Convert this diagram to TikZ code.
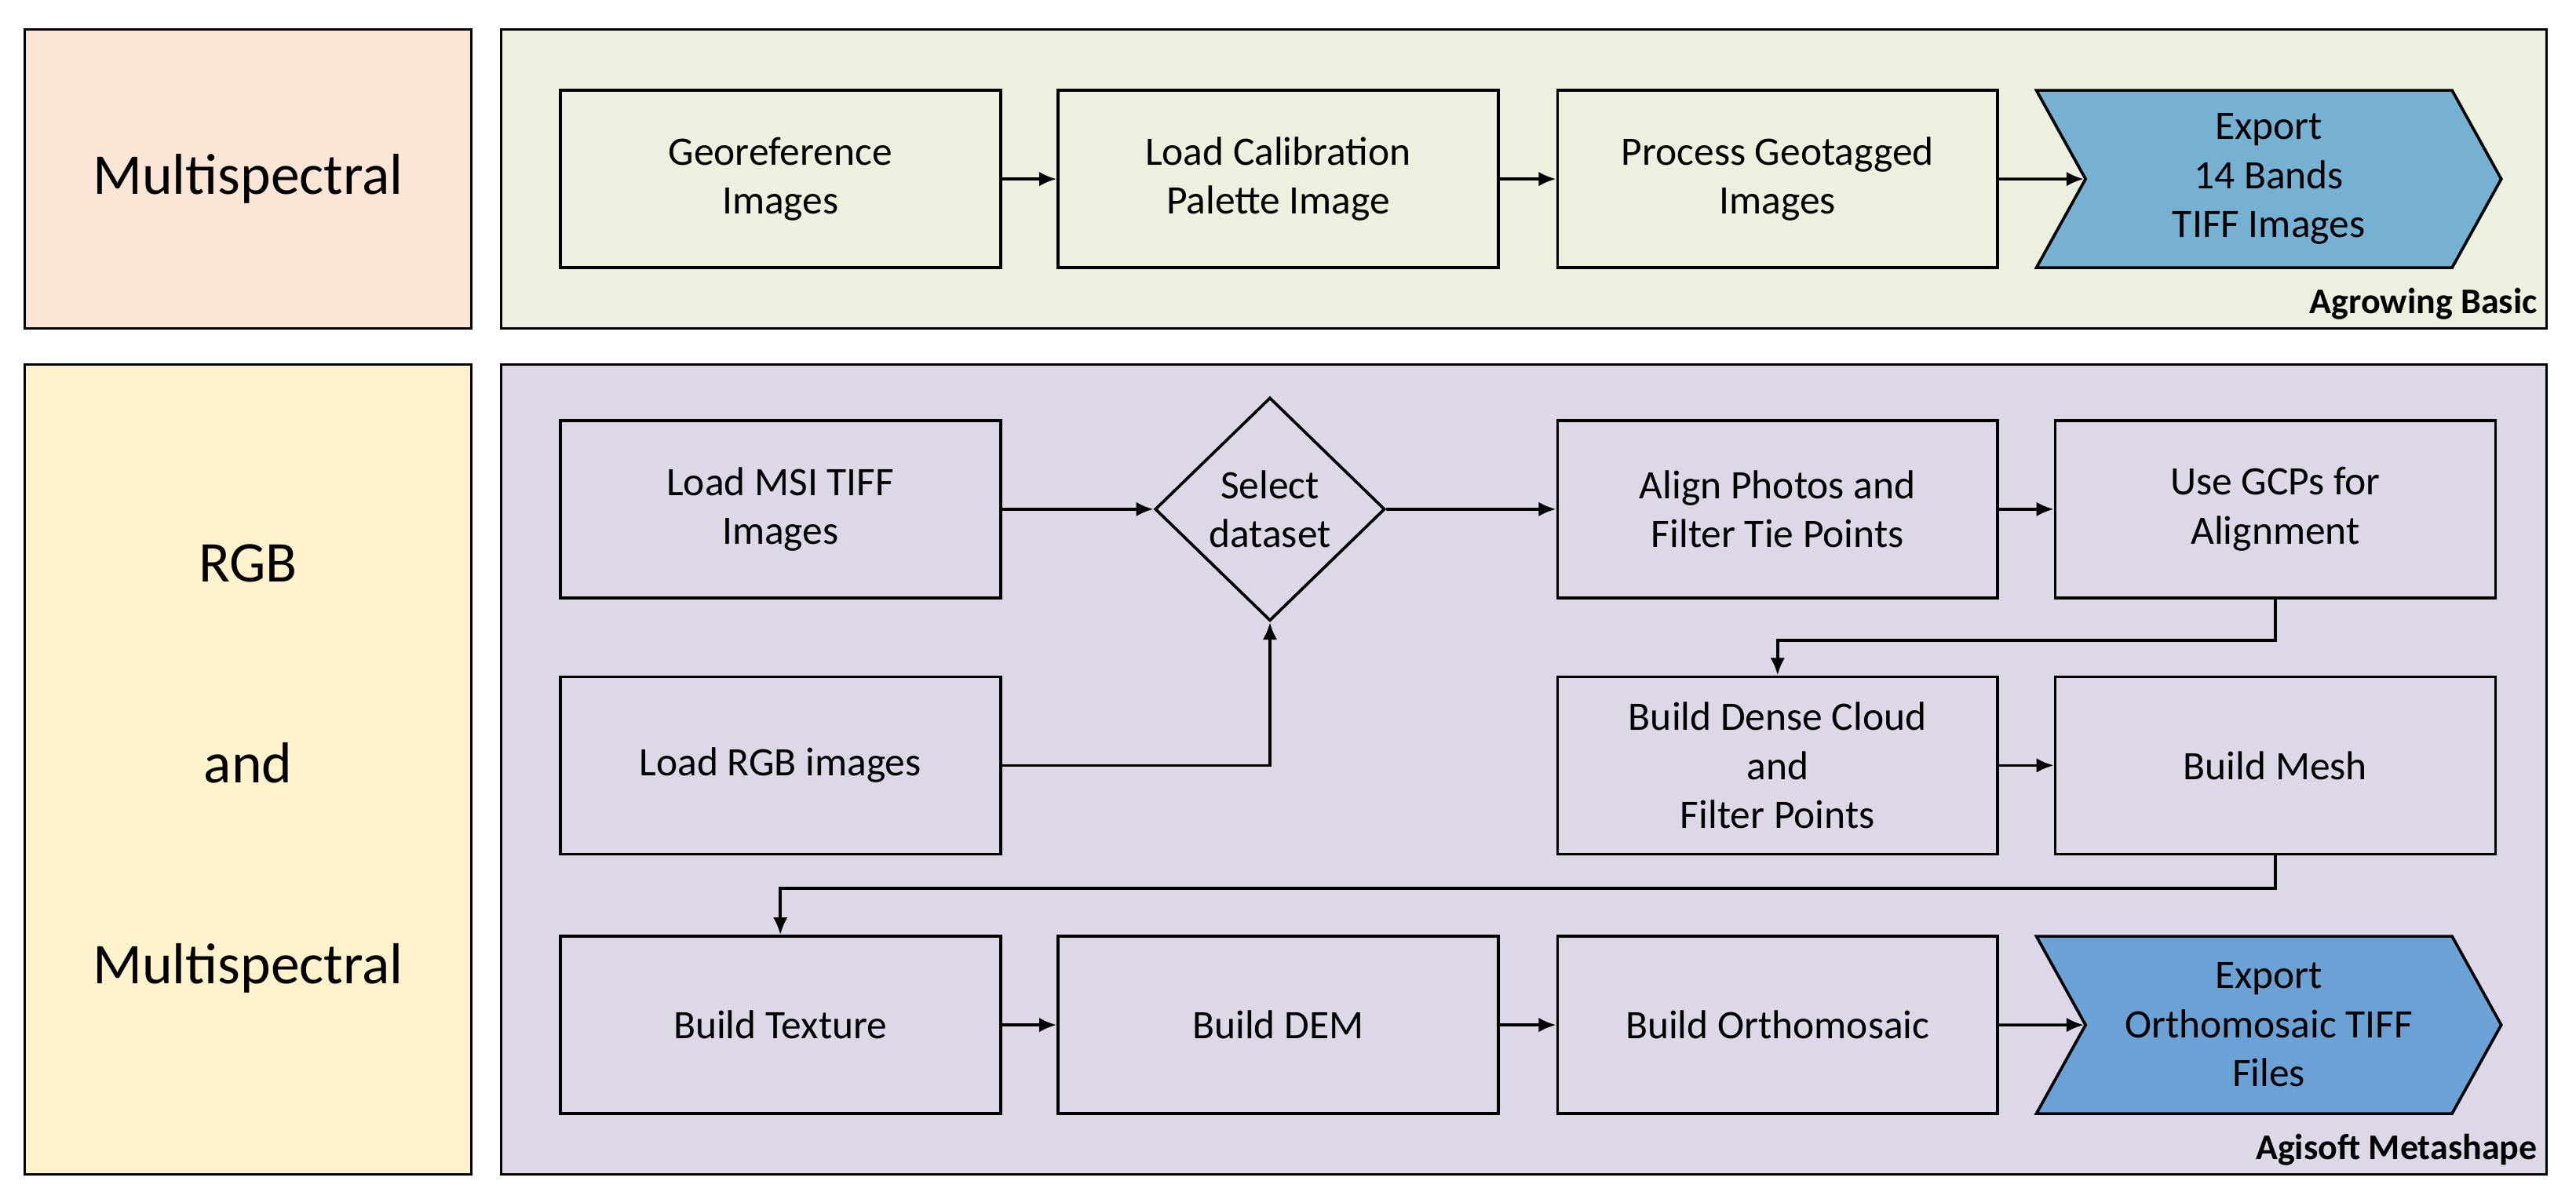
\documentclass[tikz,border=0pt]{standalone}
\usepackage{fontspec}
\setmainfont{Carlito}
\usetikzlibrary{shapes.geometric,shapes.symbols,arrows.meta}
\definecolor{peach}{HTML}{FBE5D6}
\definecolor{cream}{HTML}{FFF2CC}
\definecolor{lgreen}{HTML}{EBF1DE}
\definecolor{lpurple}{HTML}{DDD7E7}
\definecolor{eblue}{HTML}{76B1D4}
\definecolor{eblueb}{HTML}{6CA1D5}
\tikzset{
  panel/.style={draw, line width=0.8pt},
  task/.style={draw, line width=1pt, minimum width=5.36cm, minimum height=2.16cm,
    align=center, font=\fontsize{14}{17}\selectfont, inner sep=2pt},
  export/.style={draw, line width=1pt, signal, signal to=east, signal from=west,
    signal pointer angle=122, minimum width=5.66cm, minimum height=2.16cm,
    align=center, font=\fontsize{14}{17}\selectfont, inner sep=1pt},
  choice/.style={draw, line width=1pt, diamond, minimum width=2.8cm, minimum height=2.72cm,
    align=center, font=\fontsize{14}{17}\selectfont, inner sep=0pt},
  flow/.style={-{Latex[length=6pt,width=5pt]}, line width=1pt},
  tag/.style={font=\bfseries\fontsize{12.5}{15}\selectfont, anchor=south east, inner sep=3pt},
  side/.style={align=center, font=\fontsize{20}{24}\selectfont}
}
\begin{document}
\begin{tikzpicture}[x=0.02cm, y=-0.02cm]
  \useasboundingbox (0,0) rectangle (1568,732);

  % lanes
  \draw[panel, fill=peach] (15,18) rectangle (287,200);
  \node[side] (lmulti) at (151,109) {Multispectral};
  \draw[panel, fill=cream] (15,222) rectangle (287,715);
  \node[side, align=center] (lrgb) at (151,468) {RGB\\[1.6cm]and\\[1.6cm]Multispectral};
  \draw[panel, fill=lgreen] (305,18) rectangle (1550,200);
  \node[tag] (agro) at (1550,200) {Agrowing Basic};
  \draw[panel, fill=lpurple] (305,222) rectangle (1550,715);
  \node[tag] (agi) at (1550,715) {Agisoft Metashape};

  % Agrowing Basic
  \node[task] (geo) at (475,109) {Georeference\\Images};
  \node[task] (cal) at (778,109) {Load Calibration\\Palette Image};
  \node[task] (proc) at (1082,109) {Process Geotagged\\Images};
  \node[export, fill=eblue] (exp1) at (1381,109) {Export\\14 Bands\\TIFF Images};
  \draw[flow] (geo) -- (cal);
  \draw[flow] (cal) -- (proc);
  \draw[flow] (proc) -- (exp1);

  % Agisoft Metashape
  \node[task] (msi) at (475,310) {Load MSI TIFF\\Images};
  \node[choice] (sel) at (773,310) {Select\\dataset};
  \node[task] (align) at (1082,310) {Align Photos and\\Filter Tie Points};
  \node[task] (gcp) at (1385,310) {Use GCPs for\\Alignment};
  \node[task] (rgb) at (475,466) {Load RGB images};
  \node[task] (dense) at (1082,466) {Build Dense Cloud\\and\\Filter Points};
  \node[task] (mesh) at (1385,466) {Build Mesh};
  \node[task] (tex) at (475,624) {Build Texture};
  \node[task] (dem) at (778,624) {Build DEM};
  \node[task] (ortho) at (1082,624) {Build Orthomosaic};
  \node[export, fill=eblueb] (exp2) at (1381,624) {Export\\Orthomosaic TIFF\\Files};

  \draw[flow] (msi) -- (sel);
  \draw[flow] (rgb) -| (sel);
  \draw[flow] (sel) -- (align);
  \draw[flow] (align) -- (gcp);
  \draw[flow] (gcp.south) -- ++(0,25) -| (dense.north);
  \draw[flow] (dense) -- (mesh);
  \draw[flow] (mesh.south) -- ++(0,20) -| (tex.north);
  \draw[flow] (tex) -- (dem);
  \draw[flow] (dem) -- (ortho);
  \draw[flow] (ortho) -- (exp2);
\end{tikzpicture}
\end{document}
